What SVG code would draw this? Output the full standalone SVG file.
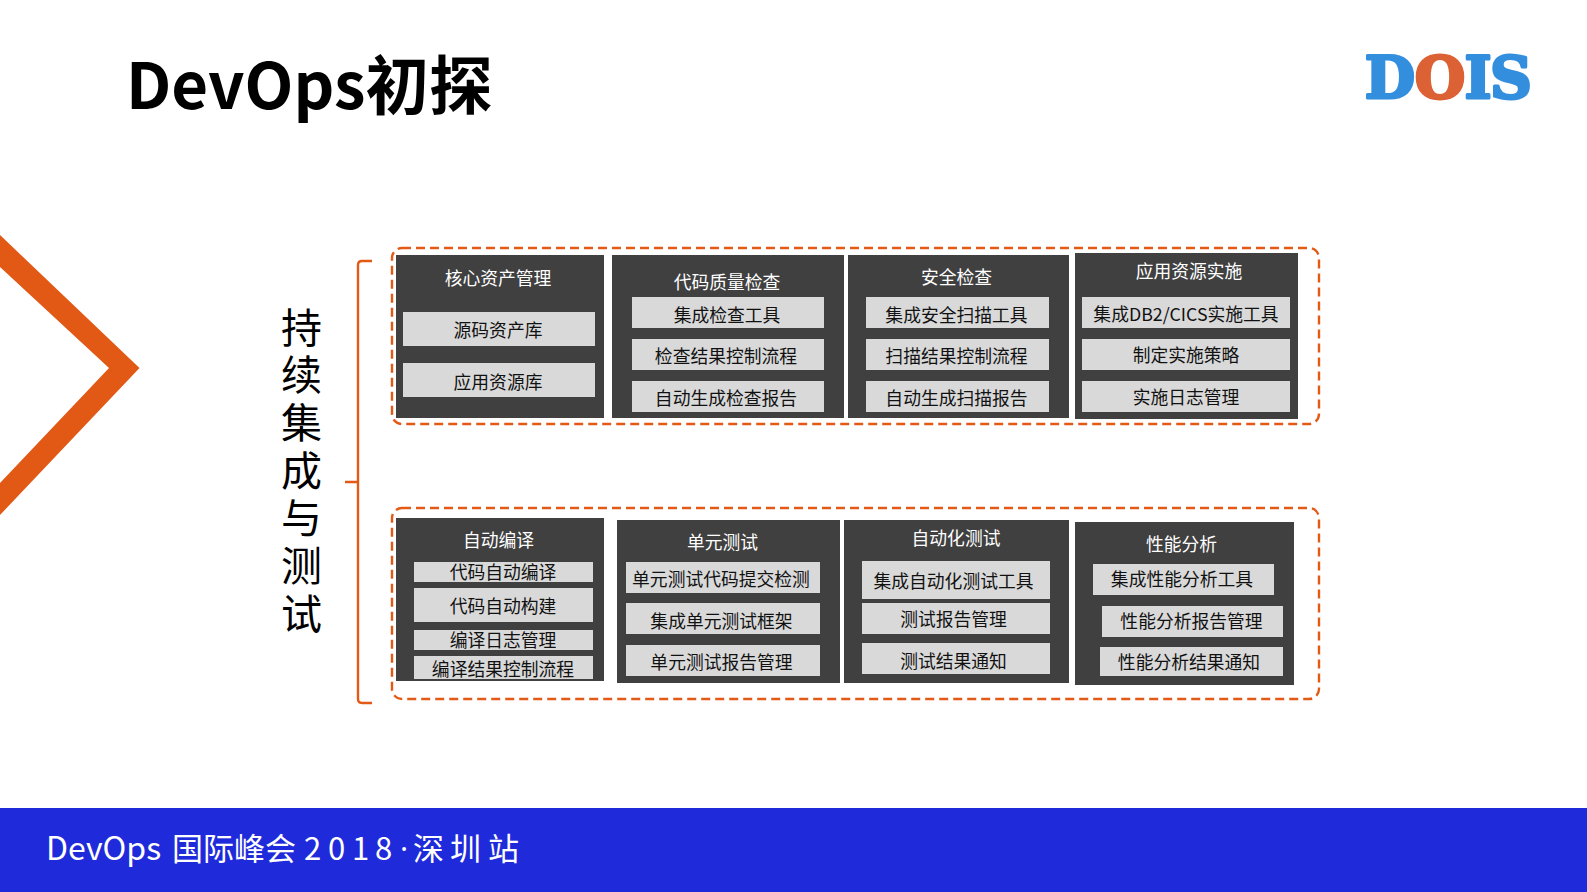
<svg xmlns="http://www.w3.org/2000/svg" width="1587" height="892" viewBox="0 0 1587 892">
<style>
text{font-family:"Noto Sans CJK SC","Noto Sans",sans-serif;text-anchor:middle}
.p{fill:#404040}
.b{fill:#d9d9d9}
.h{fill:#fff;font-size:17.8px}
.t{fill:#111;font-size:17.8px}
.d{fill:none;stroke:#e35a17;stroke-width:2.400;stroke-dasharray:9 5}
.logo{font-family:"DejaVu Serif",serif;font-weight:700;font-size:58px;stroke-width:3px;stroke-linejoin:round}
.lb{fill:#338fde;stroke:#338fde}
.lo{fill:#dc6235;stroke:#dc6235}
.v{fill:#000;font-size:41px;letter-spacing:6.700px;writing-mode:vertical-rl;text-anchor:start}
.f{fill:#fff;font-size:31px}
</style>
<rect width="1587" height="892" fill="#fff"/>
<g id="title"><text x="126" y="109" font-size="63.500" font-weight="700" style="text-anchor:start">DevOps初探</text></g>
<g id="logo">
<text class="logo lb" x="1390" y="97.500">D</text>
<text class="logo lo" x="1440" y="97.500">O</text>
<text class="logo lb" x="1478" y="97.500">I</text>
<text class="logo lb" x="1511" y="97.500">S</text>
</g>
<polygon id="chevron" points="0,235 139.500,368 0,515 0,483 109,368 0,267" fill="#e25815"/>
<g id="vertical-label"><text class="v" x="301.500" y="306.500">持续集成与测试</text></g>
<g id="connectors">
<path d="M372 261H362Q358 261 358 265V699Q358 703 362 703H372M358 482H345" fill="none" stroke="#e35a17" stroke-width="2.400"/>
<rect class="d" x="392" y="248" width="927" height="176" rx="10"/>
<rect class="d" x="392" y="508" width="927" height="191" rx="10"/>
</g>
<g id="core-assets">
<rect class="p" x="396" y="255" width="208" height="163"/>
<text class="h" x="498" y="285">核心资产管理</text>
<rect class="b" x="403" y="312" width="192" height="34"/><text class="t" x="498" y="337">源码资产库</text>
<rect class="b" x="403" y="363" width="192" height="34"/><text class="t" x="498" y="389">应用资源库</text>
</g>
<g id="code-quality">
<rect class="p" x="612" y="255" width="232" height="163"/>
<text class="h" x="727" y="289">代码质量检查</text>
<rect class="b" x="632" y="297" width="192" height="31"/><text class="t" x="727" y="322">集成检查工具</text>
<rect class="b" x="632" y="339" width="192" height="31"/><text class="t" x="726" y="363">检查结果控制流程</text>
<rect class="b" x="632" y="381" width="192" height="31"/><text class="t" x="726" y="405">自动生成检查报告</text>
</g>
<g id="security">
<rect class="p" x="848" y="255" width="221" height="163"/>
<text class="h" x="956.500" y="284">安全检查</text>
<rect class="b" x="866" y="297" width="183" height="31"/><text class="t" x="956.500" y="322">集成安全扫描工具</text>
<rect class="b" x="866" y="339" width="183" height="31"/><text class="t" x="956.500" y="363">扫描结果控制流程</text>
<rect class="b" x="866" y="381" width="183" height="31"/><text class="t" x="956.500" y="405">自动生成扫描报告</text>
</g>
<g id="app-resources">
<rect class="p" x="1075" y="253" width="223" height="166"/>
<text class="h" x="1189" y="278">应用资源实施</text>
<rect class="b" x="1082" y="297" width="208" height="31"/><text class="t" x="1186" y="321">集成DB2/CICS实施工具</text>
<rect class="b" x="1082" y="339" width="208" height="31"/><text class="t" x="1186" y="362">制定实施策略</text>
<rect class="b" x="1082" y="381" width="208" height="31"/><text class="t" x="1186" y="404">实施日志管理</text>
</g>
<g id="auto-compile">
<rect class="p" x="396" y="518" width="208" height="163"/>
<text class="h" x="498.500" y="547">自动编译</text>
<rect class="b" x="414" y="562" width="179" height="20"/><text class="t" x="503" y="579">代码自动编译</text>
<rect class="b" x="414" y="588" width="179" height="34"/><text class="t" x="503" y="613">代码自动构建</text>
<rect class="b" x="414" y="630" width="179" height="20"/><text class="t" x="503" y="647">编译日志管理</text>
<rect class="b" x="414" y="656" width="179" height="23"/><text class="t" x="503" y="676">编译结果控制流程</text>
</g>
<g id="unit-test">
<rect class="p" x="617" y="520" width="223" height="163"/>
<text class="h" x="722.500" y="549">单元测试</text>
<rect class="b" x="626" y="562" width="194" height="31"/><text class="t" x="721" y="586">单元测试代码提交检测</text>
<rect class="b" x="626" y="603" width="194" height="31"/><text class="t" x="721.500" y="628">集成单元测试框架</text>
<rect class="b" x="626" y="645" width="194" height="31"/><text class="t" x="721.500" y="669">单元测试报告管理</text>
</g>
<g id="auto-test">
<rect class="p" x="844" y="520" width="225" height="163"/>
<text class="h" x="956" y="545">自动化测试</text>
<rect class="b" x="862" y="561" width="188" height="38"/><text class="t" x="953.500" y="588">集成自动化测试工具</text>
<rect class="b" x="862" y="603" width="188" height="31"/><text class="t" x="953.500" y="626">测试报告管理</text>
<rect class="b" x="862" y="643" width="188" height="31"/><text class="t" x="953.500" y="668">测试结果通知</text>
</g>
<g id="performance">
<rect class="p" x="1075" y="522" width="219" height="163"/>
<text class="h" x="1181.500" y="551">性能分析</text>
<rect class="b" x="1093" y="564" width="181" height="31"/><text class="t" x="1182" y="586">集成性能分析工具</text>
<rect class="b" x="1102" y="606" width="181" height="31"/><text class="t" x="1191.500" y="628">性能分析报告管理</text>
<rect class="b" x="1100" y="647" width="183" height="29"/><text class="t" x="1189" y="669">性能分析结果通知</text>
</g>
<g id="footer">
<rect x="0" y="808" width="1587" height="84" fill="#1f2bdb"/>
<text class="f" y="860" style="text-anchor:start"><tspan x="46" font-size="32">DevOps</tspan><tspan x="172">国际峰会</tspan><tspan x="304 328 352 375">2018</tspan><tspan x="400" font-family="Open Sans">·</tspan><tspan x="413">深</tspan><tspan x="450">圳</tspan><tspan x="488">站</tspan></text>
</g>
</svg>
